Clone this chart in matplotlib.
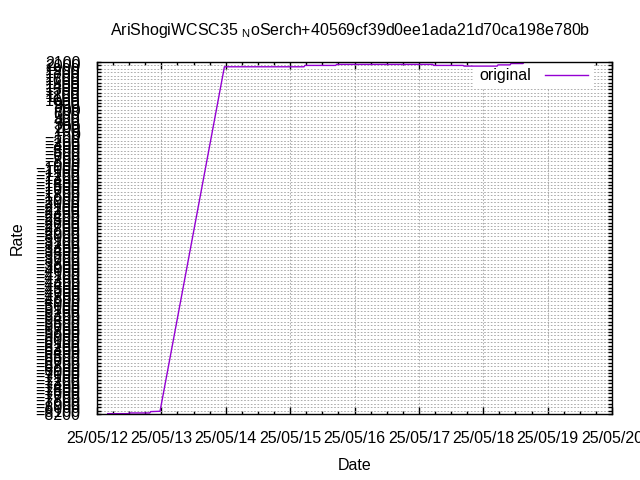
import numpy as np
import pandas as pd
import matplotlib
matplotlib.use("Agg")
import matplotlib.pyplot as plt
import matplotlib.dates as mdates

plt.rcParams["font.family"] = ["Liberation Sans", "DejaVu Sans"]
plt.rcParams["mathtext.fontset"] = "custom"
plt.rcParams["mathtext.rm"] = "Liberation Sans"

# rate history
times = [
    "2025-05-12 04:00", "2025-05-12 11:40", "2025-05-12 12:00",
    "2025-05-12 19:40", "2025-05-12 20:00", "2025-05-12 23:30",
    "2025-05-13 23:30", "2025-05-15 05:10", "2025-05-15 05:30",
    "2025-05-15 17:00", "2025-05-15 17:20", "2025-05-17 05:10",
    "2025-05-17 05:30", "2025-05-17 16:30", "2025-05-17 16:50",
    "2025-05-18 05:10", "2025-05-18 05:30", "2025-05-18 10:00",
    "2025-05-18 10:20", "2025-05-18 14:50", "2025-05-18 15:10",
    "2025-05-18 21:20",
]
rates = [
    -8190, -8190, -8170,
    -8170, -8130, -8120,
    1960, 1960, 2000,
    2000, 2030, 2030,
    2000, 2000, 1980,
    1980, 2015, 2015,
    2055, 2055, 2095,
    2095,
]

y_min, y_max, y_step = -8200, 2100, 100
x_start, x_end = "2025-05-12", "2025-05-20"

title = r"AriShogiWCSC35 $_{\mathrm{N}}$oSerch+40569cf39d0ee1ada21d70ca198e780b"
fs = 11.5

fig = plt.figure(figsize=(6.4, 4.8), dpi=100)
ax = fig.add_axes([97 / 640, 1 - 414 / 480, 515 / 640, 352 / 480])

x = pd.to_datetime(times)
ax.plot(x, rates, color="#9400d3", linewidth=1, label="original", zorder=6)

ax.set_xlim(pd.Timestamp(x_start), pd.Timestamp(x_end))
ax.set_ylim(y_min, y_max)

ax.xaxis.set_major_locator(mdates.DayLocator())
ax.xaxis.set_minor_locator(mdates.HourLocator(byhour=[6, 12, 18]))
ax.xaxis.set_major_formatter(mdates.DateFormatter("%y/%m/%d"))
ax.set_yticks(np.arange(y_min, y_max + 1, y_step))

ax.tick_params(axis="both", which="both", direction="in",
               top=True, right=True, labelsize=fs, width=1)
ax.tick_params(axis="x", which="major", length=5, pad=12)
ax.tick_params(axis="x", which="minor", length=2.5)
ax.tick_params(axis="y", which="major", length=3, pad=12)

ax.grid(True, which="major", color="#a0a0a0", linestyle=(0, (2, 2)),
        linewidth=0.6)
ax.set_axisbelow(True)
for s in ax.spines.values():
    s.set_linewidth(1)
    s.set_color("black")
    s.set_zorder(7)

ax.set_xlabel("Date", fontsize=fs, labelpad=9)
ax.set_ylabel("Rate", fontsize=fs)
ax.yaxis.set_label_coords(-0.14, 0.5)
fig.text(350 / 640, 1 - 30 / 480, title, ha="center", va="center",
         fontsize=fs)

leg = ax.legend(loc="upper right", bbox_to_anchor=(0.963, 0.996),
                markerfirst=False, fontsize=fs,
                frameon=True, fancybox=False, framealpha=1,
                handlelength=2.7, handletextpad=0.9,
                borderaxespad=0, borderpad=0.3)
leg.get_frame().set_edgecolor("white")
leg.get_frame().set_linewidth(0)

fig.savefig("out.png", dpi=100)
